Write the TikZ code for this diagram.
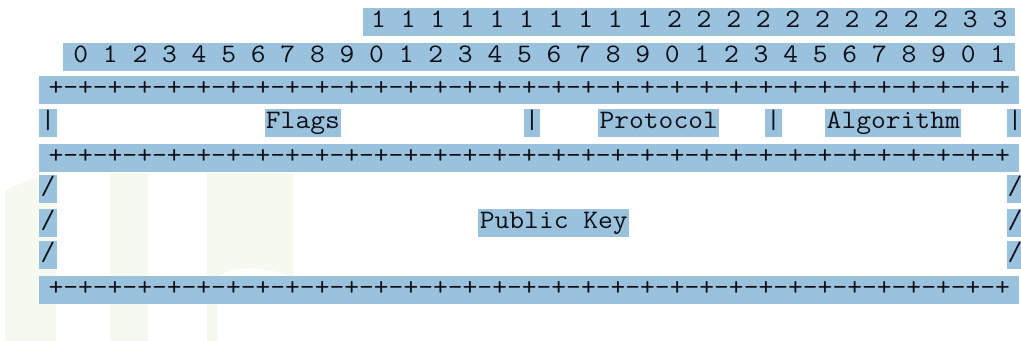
\documentclass[tikz,border=0pt]{standalone}
\usepackage{graphicx}
\definecolor{hl}{RGB}{154,194,220}
\definecolor{ink}{RGB}{15,15,25}
\definecolor{wm}{RGB}{246,249,240}
\newcommand\stretchtt[1]{\scalebox{1.0771}[1]{#1}}
\tikzset{
  hlbox/.style={fill=hl, inner sep=0pt, anchor=north west, minimum height=21pt,
    text height=14.6pt, text depth=6.4pt, text=ink,
    font=\fontsize{20}{24}\selectfont\ttfamily},
  wmark/.style={fill=wm, draw=none}
}
\begin{document}
\begin{tikzpicture}[x=0.75pt,y=-0.75pt]
\useasboundingbox (0,0) rectangle (1021,341);
% faint watermark
\fill[wmark] (5,190) -- (40,176) -- (56,174) -- (56,341) -- (5,341) -- cycle;
\fill[wmark] (110,173) rectangle (148,341);
\fill[wmark] (207,173) -- (293,173) -- (293,280) .. controls (285,268) and (225,262) .. (217,280) -- (217,341) -- (207,341) -- cycle;
% header digits
\node[hlbox, minimum width=489pt] (tens) at (363,8) {\stretchtt{1 1 1 1 1 1 1 1 1 1 2 2 2 2 2 2 2 2 2 2 3 3}};
\node[hlbox, minimum width=714pt] (ones) at (63,43) {\stretchtt{0 1 2 3 4 5 6 7 8 9 0 1 2 3 4 5 6 7 8 9 0 1 2 3 4 5 6 7 8 9 0 1}};
% rule lines
\node[hlbox, minimum width=735pt] (r1) at (39,76) {\stretchtt{+-+-+-+-+-+-+-+-+-+-+-+-+-+-+-+-+-+-+-+-+-+-+-+-+-+-+-+-+-+-+-+-+}};
\node[hlbox, minimum width=735pt] (r2) at (39,144) {\stretchtt{+-+-+-+-+-+-+-+-+-+-+-+-+-+-+-+-+-+-+-+-+-+-+-+-+-+-+-+-+-+-+-+-+}};
\node[hlbox, minimum width=735pt] (r3) at (39,276) {\stretchtt{+-+-+-+-+-+-+-+-+-+-+-+-+-+-+-+-+-+-+-+-+-+-+-+-+-+-+-+-+-+-+-+-+}};
% field row
\node[hlbox, minimum width=13pt] (b1) at (39,109) {\stretchtt{|}};
\node[hlbox, minimum width=56.5pt] (flags) at (265,109) {\stretchtt{Flags}};
\node[hlbox, minimum width=12.5pt] (b2) at (523.5,109) {\stretchtt{|}};
\node[hlbox, minimum width=90.7pt] (proto) at (598,109) {\stretchtt{Protocol}};
\node[hlbox, minimum width=12.5pt] (b3) at (765,109) {\stretchtt{|}};
\node[hlbox, minimum width=102pt] (algo) at (825,109) {\stretchtt{Algorithm}};
\node[hlbox, minimum width=12.5pt] (b4) at (1006.5,109) {\stretchtt{|}};
% public key rows
\node[hlbox, minimum width=13pt] (s1) at (39,175) {\stretchtt{/}};
\node[hlbox, minimum width=13pt] (s2) at (39,209) {\stretchtt{/}};
\node[hlbox, minimum width=13pt] (s3) at (39,241) {\stretchtt{/}};
\node[hlbox, minimum width=12.5pt] (t1) at (1006.5,175) {\stretchtt{/}};
\node[hlbox, minimum width=12.5pt] (t2) at (1006.5,209) {\stretchtt{/}};
\node[hlbox, minimum width=12.5pt] (t3) at (1006.5,241) {\stretchtt{/}};
\node[hlbox, minimum width=113.3pt] (pk) at (478,209) {\stretchtt{Public Key}};
\end{tikzpicture}
\end{document}
